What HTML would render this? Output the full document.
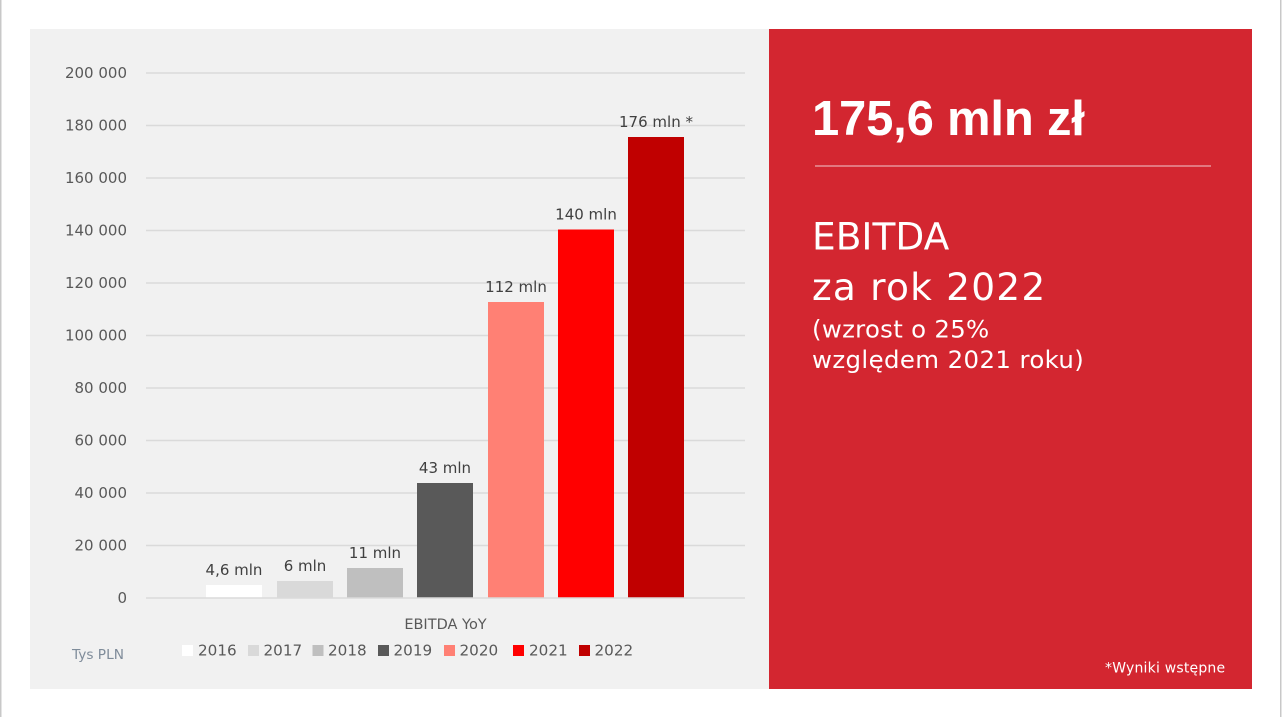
<!DOCTYPE html>
<html>
<head>
<meta charset="utf-8">
<style>
  html,body{margin:0;padding:0;background:#ffffff;}
  body{width:1282px;height:717px;overflow:hidden;position:relative;}
  svg{position:absolute;left:0;top:0;}
  text{font-family:"DejaVu Sans","Liberation Sans",sans-serif;}
  text.title{font-family:"Liberation Sans",sans-serif;}
</style>
</head>
<body>
<svg width="1282" height="717" viewBox="0 0 1282 717" xmlns="http://www.w3.org/2000/svg">
  <!-- page edges -->
  <rect x="0" y="0" width="1282" height="717" fill="#ffffff"/>
  <rect x="0" y="0" width="1.5" height="717" fill="#c8c8c8"/>
  <rect x="1280" y="0" width="1.5" height="717" fill="#c8c8c8"/>

  <!-- gray chart panel -->
  <rect x="30" y="29" width="739" height="660" fill="#f1f1f1"/>

  <!-- red panel -->
  <rect x="769" y="29" width="483" height="660" fill="#d32630"/>

  <!-- gridlines -->
  <g stroke="#dadada" stroke-width="1.6">
    <line x1="146" y1="73" x2="745" y2="73"/>
    <line x1="146" y1="125.5" x2="745" y2="125.5"/>
    <line x1="146" y1="178" x2="745" y2="178"/>
    <line x1="146" y1="230.5" x2="745" y2="230.5"/>
    <line x1="146" y1="283" x2="745" y2="283"/>
    <line x1="146" y1="335.5" x2="745" y2="335.5"/>
    <line x1="146" y1="388" x2="745" y2="388"/>
    <line x1="146" y1="440.5" x2="745" y2="440.5"/>
    <line x1="146" y1="493" x2="745" y2="493"/>
    <line x1="146" y1="545.5" x2="745" y2="545.5"/>
  </g>

  <!-- y labels -->
  <g font-size="15" fill="#595959" text-anchor="end">
    <text x="127" y="78">200 000</text>
    <text x="127" y="130.5">180 000</text>
    <text x="127" y="183">160 000</text>
    <text x="127" y="235.5">140 000</text>
    <text x="127" y="288">120 000</text>
    <text x="127" y="340.5">100 000</text>
    <text x="127" y="393">80 000</text>
    <text x="127" y="445.5">60 000</text>
    <text x="127" y="498">40 000</text>
    <text x="127" y="550.5">20 000</text>
    <text x="127" y="603">0</text>
  </g>

  <!-- bars -->
  <rect x="206" y="585" width="56" height="13" fill="#ffffff"/>
  <rect x="277" y="581" width="56" height="17" fill="#d9d9d9"/>
  <rect x="347" y="568" width="56" height="30" fill="#bfbfbf"/>
  <rect x="417" y="483" width="56" height="115" fill="#595959"/>
  <rect x="488" y="302" width="56" height="296" fill="#ff8074"/>
  <rect x="558" y="229.5" width="56" height="368.5" fill="#ff0000"/>
  <rect x="628" y="137" width="56" height="461" fill="#c00000"/>

  <!-- axis line -->
  <line x1="146" y1="598" x2="745" y2="598" stroke="#dadada" stroke-width="1.6"/>

  <!-- data labels -->
  <g font-size="15" fill="#404040" text-anchor="middle">
    <text x="234" y="575">4,6 mln</text>
    <text x="305" y="571">6 mln</text>
    <text x="375" y="558">11 mln</text>
    <text x="445" y="473">43 mln</text>
    <text x="516" y="292">112 mln</text>
    <text x="586" y="219.5">140 mln</text>
    <text x="656" y="127">176 mln *</text>
  </g>

  <!-- axis title -->
  <text x="445.5" y="629" font-size="14.5" fill="#595959" text-anchor="middle">EBITDA YoY</text>

  <!-- Tys PLN -->
  <text x="72" y="659" font-size="13.7" fill="#7f8c9a">Tys PLN</text>

  <!-- legend -->
  <g font-size="15.2" fill="#595959">
    <rect x="182" y="645" width="11" height="11" fill="#ffffff"/>
    <text x="198" y="655.5">2016</text>
    <rect x="248" y="645" width="11" height="11" fill="#d9d9d9"/>
    <text x="263.5" y="655.5">2017</text>
    <rect x="312.5" y="645" width="11" height="11" fill="#bfbfbf"/>
    <text x="328" y="655.5">2018</text>
    <rect x="378" y="645" width="11" height="11" fill="#595959"/>
    <text x="393.5" y="655.5">2019</text>
    <rect x="444" y="645" width="11" height="11" fill="#ff8074"/>
    <text x="459.5" y="655.5">2020</text>
    <rect x="513" y="645" width="11" height="11" fill="#ff0000"/>
    <text x="529" y="655.5">2021</text>
    <rect x="579" y="645" width="11" height="11" fill="#c00000"/>
    <text x="594.5" y="655.5">2022</text>
  </g>

  <!-- right panel text -->
  <text class="title" x="812" y="135" font-size="49" font-weight="bold" fill="#ffffff" letter-spacing="-0.2">175,6 mln zł</text>
  <line x1="815" y1="166" x2="1211" y2="166" stroke="#ecaaae" stroke-width="1.2"/>
  <text x="812" y="249.5" font-size="37.5" fill="#ffffff">EBITDA</text>
  <text x="812" y="300" font-size="37.5" fill="#ffffff" letter-spacing="1.2">za rok 2022</text>
  <text x="812" y="337.5" font-size="24.4" fill="#ffffff" letter-spacing="0.3">(wzrost o 25%</text>
  <text x="812" y="368" font-size="24.4" fill="#ffffff" letter-spacing="0.4">względem 2021 roku)</text>

  <text x="1105" y="672.5" font-size="14" fill="#ffffff" letter-spacing="0.2">*Wyniki wstępne</text>
</svg>
</body>
</html>
